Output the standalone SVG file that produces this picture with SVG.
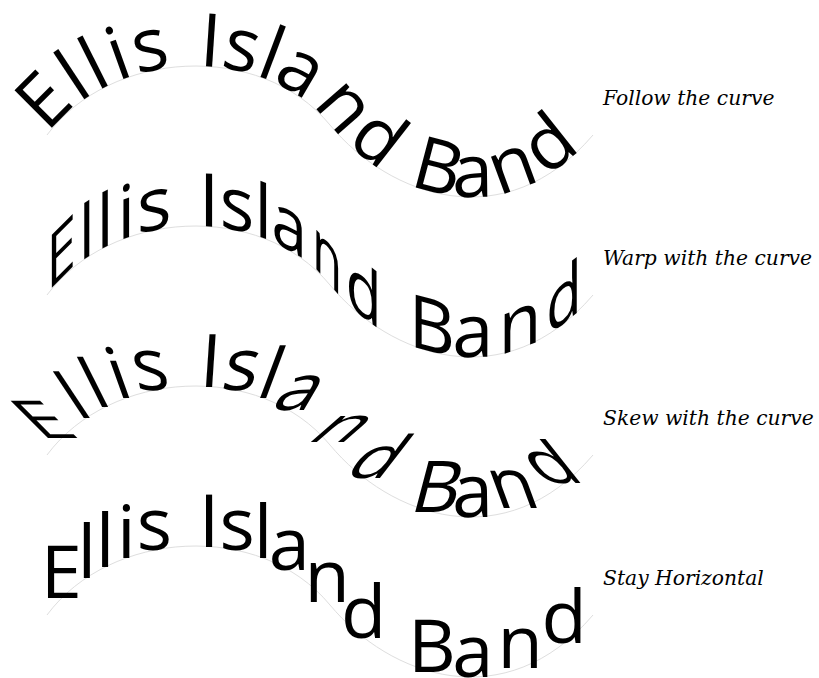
<svg xmlns="http://www.w3.org/2000/svg" xmlns:xlink="http://www.w3.org/1999/xlink" width="819" height="678" viewBox="0 0 819 678">
<style>
.wave{fill:none;stroke:#dedede;stroke-width:1}
.g{font-family:"Open Sans","Noto Sans","Liberation Sans",sans-serif;font-size:74px;fill:#000;text-anchor:middle}
.cap{font-family:"DejaVu Serif","Liberation Serif",serif;font-style:italic;font-size:20.3px;fill:#000}
</style>
<defs>
<path id="wave" class="wave" d="M47,135 C110,50 260,40 330,125 C390,197 505,238 593,135"/>
</defs>
<rect width="819" height="678" fill="#fff"/>
<g id="curves">
<use xlink:href="#wave" href="#wave"/>
<use xlink:href="#wave" href="#wave" y="160"/>
<use xlink:href="#wave" href="#wave" y="320"/>
<use xlink:href="#wave" href="#wave" y="480"/>
</g>
<g id="row-follow">
<text class="g" transform="translate(61.4,118.2) rotate(-45)">E</text>
<text class="g" transform="translate(86.9,97.6) rotate(-33.5)">l</text>
<text class="g" transform="translate(105.1,87.1) rotate(-26.7)">l</text>
<text class="g" transform="translate(126.3,78.0) rotate(-19.7)">i</text>
<text class="g" transform="translate(154.3,70.2) rotate(-11.6)">s</text>
<text class="g" transform="translate(209.1,66.5) rotate(3.8)">I</text>
<text class="g" transform="translate(237.1,70.4) rotate(12.1)">s</text>
<text class="g" transform="translate(263.2,78.0) rotate(20.6)">l</text>
<text class="g" transform="translate(289.3,90.4) rotate(30.4)">a</text>
<text class="g" transform="translate(327.2,121.7) rotate(48.9)">n</text>
<text class="g" transform="translate(363.6,157.5) rotate(37.8)">d</text>
<text class="g" transform="translate(431.9,191.9) rotate(14.7)">B</text>
<text class="g" transform="translate(472.9,197.0) rotate(-0.8)">a</text>
<text class="g" transform="translate(520.1,188.2) rotate(-20.2)">n</text>
<text class="g" transform="translate(564.1,163.1) rotate(-38.4)">d</text>
<text class="cap" x="603" y="105">Follow the curve</text>
</g>
<g id="row-warp">
<text class="g" transform="matrix(.7071,-.7071,0,1,61.4,278.2)">E</text>
<text class="g" transform="matrix(.8339,-.5519,0,1,86.9,257.6)">l</text>
<text class="g" transform="matrix(.8934,-.4493,0,1,105.1,247.1)">l</text>
<text class="g" transform="matrix(.9415,-.3371,0,1,126.3,238.0)">i</text>
<text class="g" transform="matrix(.9796,-.2011,0,1,154.3,230.2)">s</text>
<text class="g" transform="matrix(.9978,.0663,0,1,209.1,226.5)">I</text>
<text class="g" transform="matrix(.9778,.2096,0,1,237.1,230.4)">s</text>
<text class="g" transform="matrix(.9361,.3518,0,1,263.2,238.0)">l</text>
<text class="g" transform="matrix(.8625,.5060,0,1,289.3,250.4)">a</text>
<text class="g" transform="matrix(.6574,.7536,0,1,327.2,281.7)">n</text>
<text class="g" transform="matrix(.7902,.6129,0,1,363.6,317.5)">d</text>
<text class="g" transform="matrix(.9673,.2538,0,1,431.9,351.9)">B</text>
<text class="g" transform="matrix(.9999,-.0140,0,1,472.9,357.0)">a</text>
<text class="g" transform="matrix(.9385,-.3453,0,1,520.1,348.2)">n</text>
<text class="g" transform="matrix(.7837,-.6211,0,1,564.1,323.1)">d</text>
<text class="cap" x="603" y="265">Warp with the curve</text>
</g>
<g id="row-skew">
<text class="g" transform="matrix(1,0,.7071,.7071,61.4,438.2)">E</text>
<text class="g" transform="matrix(1,0,.5519,.8339,86.9,417.6)">l</text>
<text class="g" transform="matrix(1,0,.4493,.8934,105.1,407.1)">l</text>
<text class="g" transform="matrix(1,0,.3371,.9415,126.3,398.0)">i</text>
<text class="g" transform="matrix(1,0,.2011,.9796,154.3,390.2)">s</text>
<text class="g" transform="matrix(1,0,-.0663,.9978,209.1,386.5)">I</text>
<text class="g" transform="matrix(1,0,-.2096,.9778,237.1,390.4)">s</text>
<text class="g" transform="matrix(1,0,-.3518,.9361,263.2,398.0)">l</text>
<text class="g" transform="matrix(1,0,-.5060,.8625,289.3,410.4)">a</text>
<text class="g" transform="matrix(1,0,-.7536,.6574,327.2,441.7)">n</text>
<text class="g" transform="matrix(1,0,-.6129,.7902,363.6,477.5)">d</text>
<text class="g" transform="matrix(1,0,-.2538,.9673,431.9,511.9)">B</text>
<text class="g" transform="matrix(1,0,.0140,.9999,472.9,517.0)">a</text>
<text class="g" transform="matrix(1,0,.3453,.9385,520.1,508.2)">n</text>
<text class="g" transform="matrix(1,0,.6211,.7837,564.1,483.1)">d</text>
<text class="cap" x="603" y="425">Skew with the curve</text>
</g>
<g id="row-horizontal">
<text class="g" transform="translate(61.4,598.2)">E</text>
<text class="g" transform="translate(86.9,577.6)">l</text>
<text class="g" transform="translate(105.1,567.1)">l</text>
<text class="g" transform="translate(126.3,558.0)">i</text>
<text class="g" transform="translate(154.3,550.2)">s</text>
<text class="g" transform="translate(209.1,546.5)">I</text>
<text class="g" transform="translate(237.1,550.4)">s</text>
<text class="g" transform="translate(263.2,558.0)">l</text>
<text class="g" transform="translate(289.3,570.4)">a</text>
<text class="g" transform="translate(327.2,601.7)">n</text>
<text class="g" transform="translate(363.6,637.5)">d</text>
<text class="g" transform="translate(431.9,671.9)">B</text>
<text class="g" transform="translate(472.9,677.0)">a</text>
<text class="g" transform="translate(520.1,668.2)">n</text>
<text class="g" transform="translate(564.1,643.1)">d</text>
<text class="cap" x="603" y="585">Stay Horizontal</text>
</g>
</svg>
